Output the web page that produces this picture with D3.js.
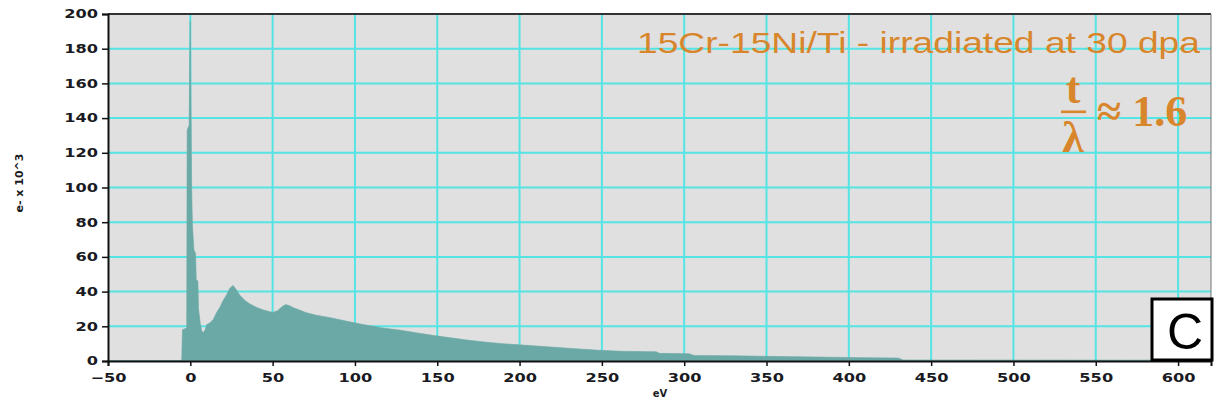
<!DOCTYPE html>
<html>
<head>
<meta charset="utf-8">
<script src="https://cdn.jsdelivr.net/npm/d3@7/dist/d3.min.js"></script>
<style>
  html, body { margin: 0; padding: 0; background: #ffffff; }
  svg { display: block; }
</style>
</head>
<body>
<svg id="chart" width="1214" height="405"></svg>
<script>
// ---- data ----
const energyLoss = [-50, -6, -5.2, -4.8, -2.2, -1.9, -0.7, -0.3, 0, 0.4, 0.8, 1.3, 2.2, 3.2, 3.6, 4.6, 5.0, 6, 7, 8,
  9, 10, 12, 14, 16, 18, 20, 22, 24, 26, 28, 30, 33, 36, 40, 44, 48, 50, 53, 56, 58, 60, 63, 66, 70, 76, 85, 96,
  105, 117, 127, 137, 147, 157, 167, 177, 188, 200, 215, 230, 248, 262, 283, 285, 303, 306, 330, 350, 380, 400,
  430, 433, 620];
const counts = [0.3, 0.3, 0.8, 18, 19, 133, 136, 180, 196, 150, 100, 78, 64, 62, 47, 46, 30, 22, 17, 16.5,
  18, 21, 22, 24, 28, 31, 35, 38, 42, 43.5, 41, 38, 35, 33, 31, 29.5, 28.5, 28, 29, 31.5, 32.5, 32, 30.5, 29.5,
  28, 26.5, 25, 22.7, 21, 19, 17.8, 16.3, 14.8, 13.5, 12.2, 11.1, 10.1, 9.3, 8.3, 7.3, 6.2, 5.6, 5.3, 4.4, 4.2, 3.2, 3.0,
  2.7, 2.3, 2.0, 1.7, 0.6, 0.5];
const xTicks = [-50, 0, 50, 100, 150, 200, 250, 300, 350, 400, 450, 500, 550, 600];
const yTicks = [0, 20, 40, 60, 80, 100, 120, 140, 160, 180, 200];
const xDomain = [-50, 620];
const yDomain = [0, 200];
const xTitle = "eV";
const yTitle = "e- x 10^3";
const noteText = "15Cr-15Ni/Ti - irradiated at 30 dpa";
const ratioText = "≈ 1.6";
const panelLetter = "C";

(function draw() {
  const svg = d3.select("#chart");
  const pL = 108, pR = 1211, pT = 14, pB = 361;
  const x = d3.scaleLinear().domain(xDomain).range([pL, pR]);
  const y = d3.scaleLinear().domain(yDomain).range([pB, pT]);

  const orange = "#d8862c";
  const cyan = "#55e4e4";

  // plot background
  svg.append("rect").attr("x", pL).attr("y", pT)
    .attr("width", pR - pL).attr("height", pB - pT)
    .attr("fill", "#e0e0e0");

  // grid
  const grid = svg.append("g");
  grid.selectAll("line.v").data(xTicks.filter(d => d > xDomain[0])).join("line")
    .attr("class", "v")
    .attr("x1", d => x(d)).attr("x2", d => x(d))
    .attr("y1", pT).attr("y2", pB)
    .attr("stroke", cyan).attr("stroke-width", 2);
  grid.selectAll("line.h").data(yTicks.filter(d => d > 0 && d < 200)).join("line")
    .attr("class", "h")
    .attr("x1", pL).attr("x2", pR)
    .attr("y1", d => y(d)).attr("y2", d => y(d))
    .attr("stroke", cyan).attr("stroke-width", 2);

  // spectrum
  const pts = energyLoss.map((e, i) => [e, counts[i]]);
  const area = d3.area().x(d => x(d[0])).y0(y(0)).y1(d => y(d[1]));
  svg.append("path").datum(pts).attr("d", area)
    .attr("fill", "#6ba9a6").attr("stroke", "#6ba9a6").attr("stroke-width", 0.6);

  // frame (top / right)
  svg.append("line").attr("x1", pL).attr("x2", pR).attr("y1", pT).attr("y2", pT)
    .attr("stroke", "#333").attr("stroke-width", 2);
  svg.append("line").attr("x1", pR).attr("x2", pR).attr("y1", pT).attr("y2", pB)
    .attr("stroke", "#777").attr("stroke-width", 1);

  // axes
  const xAxis = d3.axisBottom(x).tickValues(xTicks).tickSize(5).tickPadding(3)
    .tickFormat(d => d < 0 ? "\u2212" + Math.abs(d) : String(d));
  const yAxis = d3.axisLeft(y).tickValues(yTicks).tickSize(6).tickPadding(4);

  const gx = svg.append("g").attr("transform", `translate(0,${pB})`).call(xAxis);
  const gy = svg.append("g").attr("transform", `translate(${pL},0)`).call(yAxis);

  [gx, gy].forEach(g => {
    g.select(".domain").attr("stroke", "#111").attr("stroke-width", 2);
    g.selectAll(".tick line").attr("stroke", "#111").attr("stroke-width", 1.5);
    g.selectAll(".tick text")
      .attr("fill", "#1a1a22")
      .attr("font-family", "DejaVu Sans")
      .attr("font-weight", "bold")
      .attr("font-size", 12);
  });
  gx.selectAll(".tick text").attr("transform", "translate(0,4) scale(1.35,1)");
  gy.selectAll(".tick text").each(function() {
    const t = d3.select(this);
    const xx = +t.attr("x");
    t.attr("x", 0).attr("transform", `translate(${xx},0) scale(1.35,1)`);
  });

  // axis titles
  svg.append("text").attr("x", 660).attr("y", 397)
    .attr("text-anchor", "middle")
    .attr("font-family", "DejaVu Sans").attr("font-weight", "bold").attr("font-size", 10)
    .attr("fill", "#1a1a22").text(xTitle);
  svg.append("text")
    .attr("transform", "translate(23,183) rotate(-90)")
    .attr("text-anchor", "middle")
    .attr("font-family", "DejaVu Sans").attr("font-weight", "bold").attr("font-size", 11)
    .attr("fill", "#1a1a22").text(yTitle);

  // annotation
  svg.append("text").attr("x", 637).attr("y", 53)
    .attr("font-family", "Liberation Sans").attr("font-size", 29)
    .attr("textLength", 563).attr("lengthAdjust", "spacingAndGlyphs")
    .attr("fill", orange).text(noteText);

  // t / lambda fraction
  const frac = svg.append("g").attr("fill", orange)
    .attr("font-family", "Liberation Serif").attr("font-weight", "bold").attr("font-size", 44);
  frac.append("text").attr("x", 1073).attr("y", 103).attr("text-anchor", "middle").text("t");
  frac.append("rect").attr("x", 1061).attr("y", 110.5).attr("width", 25).attr("height", 2.6);
  frac.append("text").attr("x", 1073).attr("y", 152).attr("text-anchor", "middle").text("λ");
  frac.append("text").attr("x", 1097).attr("y", 126).text(ratioText);

  // panel letter box
  svg.append("rect").attr("x", 1152).attr("y", 299).attr("width", 60).attr("height", 61)
    .attr("fill", "#ffffff").attr("stroke", "#000").attr("stroke-width", 3);
  svg.append("text").attr("x", 1185).attr("y", 349).attr("text-anchor", "middle")
    .attr("font-family", "Liberation Sans").attr("font-size", 50)
    .attr("fill", "#000").text(panelLetter);
})();
</script>
</body>
</html>
